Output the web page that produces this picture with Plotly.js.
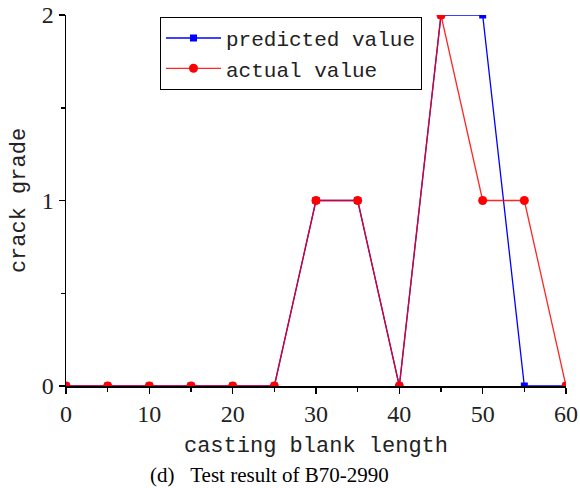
<!DOCTYPE html>
<html>
<head>
<meta charset="utf-8">
<script src="https://cdn.plot.ly/plotly-3.0.1.min.js"></script>
<style>html,body{margin:0;padding:0;background:#fff;}#chart{width:580px;height:488px;}</style>
</head>
<body>
<div id="chart"></div>
<script>
const lengths = [0, 5, 10, 15, 20, 25, 30, 35, 40, 45, 50, 55, 60];
const predictedValue = [0, 0, 0, 0, 0, 0, 1, 1, 0, 2, 2, 0, 0];
const actualValue = [0, 0, 0, 0, 0, 0, 1, 1, 0, 2, 1, 1, 0];
const xTicks = [0, 10, 20, 30, 40, 50, 60];
const yTicks = [0, 1, 2];

const traces = [
  {x: lengths, y: predictedValue, name: 'predicted value', type: 'scatter', mode: 'lines+markers',
   line: {color: '#0000ff', width: 1.3}, marker: {symbol: 'square', size: 7, color: '#0000ff'}},
  {x: lengths, y: actualValue, name: 'actual value', type: 'scatter', mode: 'lines+markers',
   line: {color: 'rgba(255,0,0,0.85)', width: 1.3}, marker: {symbol: 'circle', size: 9, color: '#ff0000'}}
];

const SERIF = 'Liberation Serif';
const MONO = 'Liberation Mono';

const layout = {
  width: 580, height: 488,
  margin: {l: 66, r: 14, t: 15, b: 102},
  paper_bgcolor: '#fff', plot_bgcolor: '#fff',
  showlegend: true,
  legend: {x: 0.188, y: 0.995, xanchor: 'left', yanchor: 'top', bordercolor: '#000', borderwidth: 1,
           bgcolor: '#fff', font: {family: MONO, size: 21, color: '#222'},
           tracegroupgap: 0, itemwidth: 55},
  xaxis: {range: [0, 60], tickvals: xTicks, ticktext: xTicks.map(String), ticks: 'outside', ticklen: 6, tickwidth: 1.5,
          tickcolor: '#000', showline: true, linecolor: '#000', linewidth: 1.5, showgrid: false, zeroline: false,
          tickfont: {family: SERIF, size: 24, color: '#222'},
          minor: {dtick: 5, ticks: 'outside', ticklen: 4, tickwidth: 1.5, tickcolor: '#000', showgrid: false},
          title: {text: 'casting blank length', font: {family: MONO, size: 22, color: '#222'}, standoff: 10}},
  yaxis: {range: [0, 2], tickvals: yTicks, ticktext: yTicks.map(String), ticks: 'outside', ticklen: 6, tickwidth: 1.5,
          tickcolor: '#000', showline: true, linecolor: '#000', linewidth: 1.5, showgrid: false, zeroline: false,
          tickfont: {family: SERIF, size: 24, color: '#222'},
          minor: {dtick: 0.5, ticks: 'outside', ticklen: 4, tickwidth: 1.5, tickcolor: '#000', showgrid: false},
          title: {text: 'crack grade', font: {family: MONO, size: 22, color: '#222'}, standoff: 10}},
  annotations: [{text: '(d)&nbsp;&nbsp;&nbsp;Test result of B70-2990', xref: 'paper', yref: 'paper', x: 0.406, y: -0.24,
                 xanchor: 'center', yanchor: 'middle', showarrow: false,
                 font: {family: SERIF, size: 21, color: '#000'}}]
};

Plotly.newPlot('chart', traces, layout, {displayModeBar: false, staticPlot: true});
</script>
</body>
</html>
